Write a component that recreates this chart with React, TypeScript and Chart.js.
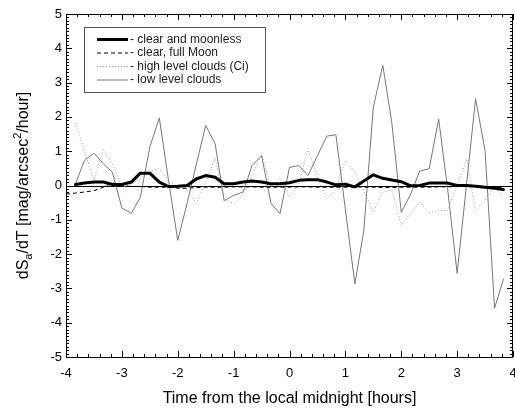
import React, { useEffect, useRef } from "react";
import { Chart, registerables } from "chart.js";

Chart.register(...registerables);

// Time from local midnight [hours]
const times = [-3.83, -3.67, -3.5, -3.33, -3.17, -3.0, -2.83, -2.67, -2.5, -2.33, -2.17, -2.0, -1.83, -1.67, -1.5, -1.33, -1.17, -1.0, -0.83, -0.67, -0.5, -0.33, -0.17, 0.0, 0.17, 0.33, 0.5, 0.67, 0.83, 1.0, 1.17, 1.33, 1.5, 1.67, 1.83, 2.0, 2.17, 2.33, 2.5, 2.67, 2.83, 3.0, 3.17, 3.33, 3.5, 3.67, 3.83];
const fullMoonTimes = [-4.0, ...times];

const clearMoonless = [0.03, 0.07, 0.1, 0.1, 0.03, 0.03, 0.1, 0.36, 0.36, 0.1, -0.03, -0.02, 0.0, 0.19, 0.29, 0.24, 0.05, 0.05, 0.1, 0.13, 0.1, 0.05, 0.05, 0.08, 0.15, 0.17, 0.17, 0.1, 0.02, 0.04, -0.04, 0.13, 0.31, 0.21, 0.16, 0.11, -0.01, 0.0, 0.07, 0.07, 0.07, 0.0, 0.0, -0.02, -0.05, -0.08, -0.12];
const clearFullMoon = [-0.25, -0.22, -0.19, -0.15, -0.05, 0.08, 0.0, -0.03, -0.03, -0.05, -0.05, -0.05, -0.08, -0.08, -0.06, -0.05, -0.05, -0.05, -0.04, -0.04, -0.04, -0.05, -0.05, -0.05, -0.05, -0.04, -0.04, -0.05, -0.05, -0.05, -0.05, -0.04, -0.05, -0.05, -0.06, -0.06, -0.05, -0.05, -0.05, -0.05, -0.04, -0.04, -0.03, -0.03, -0.03, -0.04, -0.05, -0.06];
const highClouds = [1.82, 1.0, 0.17, 1.04, 0.65, -0.05, 0.02, 0.22, 0.42, 0.49, 0.13, -0.03, -0.1, -0.52, 0.1, 0.8, -0.39, -0.53, -0.27, 0.3, 0.92, -0.05, 0.24, -0.34, 0.05, 1.08, 0.24, -0.39, -0.12, 0.73, 0.4, -0.15, -0.78, -0.2, -0.12, -1.17, -0.8, -0.49, -0.8, -0.73, -0.73, 0.0, 0.78, -0.73, -0.44, -0.02, -0.32];
const lowClouds = [0.05, 0.73, 0.94, 0.63, 0.39, -0.66, -0.81, -0.34, 1.12, 1.97, 0.2, -1.6, -0.5, 0.6, 1.75, 1.21, -0.44, -0.29, -0.19, 0.58, 0.87, -0.53, -0.82, 0.53, 0.58, 0.29, 0.87, 1.44, 1.48, -0.7, -2.87, -1.31, 2.28, 3.5, 1.85, -0.78, -0.25, 0.42, 0.49, 1.94, -0.1, -2.56, 0.05, 2.53, 1.02, -3.58, -2.72];

const legendLabels = ["- clear and moonless", "- clear, full Moon", "- high level clouds (Ci)", "- low level clouds"];
const xTickValues = [-4, -3, -2, -1, 0, 1, 2, 3, 4];
const yTickValues = [-5, -4, -3, -2, -1, 0, 1, 2, 3, 4, 5];
const xTitle = "Time from the local midnight [hours]";

const FONT = '"Liberation Sans", Arial, Helvetica, sans-serif';

const pts = (xs: number[], ys: number[]) => ys.map((y, i) => ({ x: xs[i], y }));

const styles = [
  { color: "#000000", width: 3, dash: [] as number[] },
  { color: "#000000", width: 1, dash: [4, 3] },
  { color: "#9a9a9a", width: 1, dash: [1, 2] },
  { color: "#777777", width: 1, dash: [] as number[] },
];

const framePlugin = {
  id: "framePlugin",
  beforeDatasetsDraw(chart: any) {
    const { ctx, chartArea: a, scales } = chart;
    const y0 = scales.y.getPixelForValue(0);
    ctx.save();
    ctx.strokeStyle = "#000";
    ctx.lineWidth = 1;
    ctx.beginPath();
    ctx.moveTo(a.left, Math.round(y0) + 0.5);
    ctx.lineTo(a.right, Math.round(y0) + 0.5);
    ctx.stroke();
    ctx.restore();
  },
  afterDraw(chart: any) {
    const { ctx, chartArea: a, scales } = chart;
    const xs = scales.x;
    const ys = scales.y;
    ctx.save();
    ctx.strokeStyle = "#000";
    ctx.lineWidth = 1;
    ctx.strokeRect(Math.round(a.left) + 0.5, Math.round(a.top) + 0.5, Math.round(a.right - a.left) - 1, Math.round(a.bottom - a.top));
    ctx.beginPath();
    // x ticks (major 1, minor 0.2)
    for (let k = -20; k <= 20; k++) {
      const v = k / 5;
      const px = Math.round(xs.getPixelForValue(v)) + 0.5;
      const len = k % 5 === 0 ? 6 : 3;
      ctx.moveTo(px, a.bottom);
      ctx.lineTo(px, a.bottom - len);
      ctx.moveTo(px, a.top);
      ctx.lineTo(px, a.top + len);
    }
    // y ticks (major 1, minor 0.1)
    for (let k = -50; k <= 50; k++) {
      const v = k / 10;
      const py = Math.round(ys.getPixelForValue(v)) + 0.5;
      const len = k % 10 === 0 ? 6 : 3;
      ctx.moveTo(a.left, py);
      ctx.lineTo(a.left + len, py);
      ctx.moveTo(a.right, py);
      ctx.lineTo(a.right - len, py);
    }
    ctx.stroke();

    // legend
    const bx = 84.5, by = 27.5, bw = 181, bh = 65;
    ctx.fillStyle = "#fff";
    ctx.fillRect(bx, by, bw, bh);
    ctx.strokeStyle = "#555";
    ctx.strokeRect(bx, by, bw, bh);
    const rowY = [39.5, 53, 66.5, 80];
    ctx.font = `12px ${FONT}`;
    ctx.textBaseline = "middle";
    ctx.textAlign = "left";
    legendLabels.forEach((lab, i) => {
      const s = styles[i];
      ctx.strokeStyle = s.color;
      ctx.lineWidth = s.width;
      ctx.setLineDash(s.dash);
      ctx.beginPath();
      ctx.moveTo(97, rowY[i]);
      ctx.lineTo(128, rowY[i]);
      ctx.stroke();
      ctx.setLineDash([]);
      ctx.fillStyle = "#222";
      ctx.fillText(lab, 130, rowY[i]);
    });

    // y-axis title with subscript and superscript
    const parts = [
      { t: "dS", size: 16, dy: 0 },
      { t: "a", size: 11, dy: 5 },
      { t: "/dT [mag/arcsec", size: 16, dy: 0 },
      { t: "2", size: 11, dy: -6 },
      { t: "/hour]", size: 16, dy: 0 },
    ];
    let total = 0;
    parts.forEach((p) => {
      ctx.font = `${p.size}px ${FONT}`;
      total += ctx.measureText(p.t).width;
    });
    ctx.translate(24, (a.top + a.bottom) / 2);
    ctx.rotate(-Math.PI / 2);
    ctx.fillStyle = "#000";
    ctx.textBaseline = "middle";
    let cx = -total / 2;
    parts.forEach((p) => {
      ctx.font = `${p.size}px ${FONT}`;
      ctx.fillText(p.t, cx, p.dy);
      cx += ctx.measureText(p.t).width;
    });
    ctx.restore();
  },
};

export default function App() {
  const ref = useRef<HTMLCanvasElement | null>(null);
  useEffect(() => {
    if (!ref.current) return;
    const chart = new Chart(ref.current, {
      type: "line",
      data: {
        datasets: [
          { label: legendLabels[0], data: pts(times, clearMoonless), borderColor: styles[0].color, borderWidth: styles[0].width, borderDash: styles[0].dash, pointRadius: 0, tension: 0, borderJoinStyle: "round", borderCapStyle: "round" },
          { label: legendLabels[1], data: pts(fullMoonTimes, clearFullMoon), borderColor: styles[1].color, borderWidth: styles[1].width, borderDash: styles[1].dash, pointRadius: 0, tension: 0 },
          { label: legendLabels[2], data: pts(times, highClouds), borderColor: styles[2].color, borderWidth: styles[2].width, borderDash: styles[2].dash, pointRadius: 0, tension: 0 },
          { label: legendLabels[3], data: pts(times, lowClouds), borderColor: styles[3].color, borderWidth: styles[3].width, borderDash: styles[3].dash, pointRadius: 0, tension: 0 },
        ],
      } as any,
      options: {
        animation: false,
        responsive: false,
        layout: { padding: { left: 0, top: 14, right: 2, bottom: 0 } },
        plugins: { legend: { display: false }, tooltip: { enabled: false } },
        scales: {
          x: {
            type: "linear",
            min: -4,
            max: 4,
            afterBuildTicks: (s: any) => { s.ticks = xTickValues.map((v) => ({ value: v })); },
            afterFit: (s: any) => { s.height = 51; s.paddingLeft = 0; s.paddingRight = 0; },
            grid: { display: false, drawTicks: false },
            border: { display: false },
            ticks: { color: "#000", font: { family: FONT, size: 13 }, padding: 9, maxRotation: 0, callback: (v: any) => String(v) },
            title: { display: true, text: xTitle, color: "#000", font: { family: FONT, size: 16 }, padding: { top: 0, bottom: 0 } },
          },
          y: {
            type: "linear",
            min: -5,
            max: 5,
            afterBuildTicks: (s: any) => { s.ticks = yTickValues.map((v) => ({ value: v })); },
            afterFit: (s: any) => { s.width = 66; s.paddingTop = 0; s.paddingBottom = 0; },
            grid: { display: false, drawTicks: false },
            border: { display: false },
            ticks: { color: "#000", font: { family: FONT, size: 13 }, padding: 4, callback: (v: any) => String(v) },
          },
        },
      } as any,
      plugins: [framePlugin],
    });
    return () => chart.destroy();
  }, []);
  return (
    <div style={{ position: "absolute", left: 0, top: 0, width: 515, height: 408, background: "#fff" }}>
      <canvas ref={ref} width={515} height={408} style={{ width: 515, height: 408 }} />
    </div>
  );
}
